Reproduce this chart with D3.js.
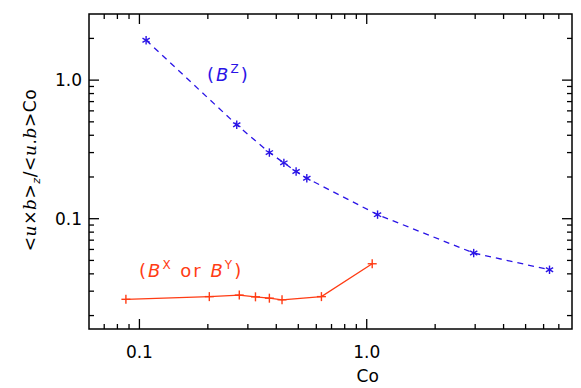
<!DOCTYPE html>
<html>
<head>
<meta charset="utf-8">
<script src="https://cdn.jsdelivr.net/npm/d3@7"></script>
<style>
  body { margin: 0; background: #fff; }
  svg { display: block; }
  text { font-family: "DejaVu Sans", sans-serif; fill: #000; }
</style>
</head>
<body>
<svg id="chart" width="581" height="388"></svg>
<script>
// Co values and the two ratio series
const bzCo = [0.107, 0.268, 0.373, 0.432, 0.489, 0.545, 1.116, 2.955, 6.37];
const bzRatio = [1.94, 0.476, 0.300, 0.253, 0.219, 0.196, 0.107, 0.0565, 0.0428];
const bxyCo = [0.0872, 0.203, 0.275, 0.324, 0.373, 0.424, 0.632, 1.057];
const bxyRatio = [0.0262, 0.0274, 0.0281, 0.0273, 0.0267, 0.0260, 0.0274, 0.0473];
const xTickLabels = ["0.1", "1.0"];
const yTickLabels = ["0.1", "1.0"];

const blue = "#2a14e6";
const red = "#ff3c14";

const svg = d3.select("#chart");
const plotL = 89, plotR = 572, plotT = 14, plotB = 329;

// log scales for both axes
const x = d3.scaleLog().domain([0.06, 8]).range([plotL, plotR]);
const y = d3.scaleLog().domain([0.016, 3]).range([plotB, plotT]);

const isMajor = v => Math.abs(Math.log10(v) - Math.round(Math.log10(v))) < 1e-6;

const axes = svg.append("g").attr("stroke", "#000").attr("stroke-width", 1.3);

// x ticks, bottom and top, pointing inward
const xt = x.ticks().filter(v => x(v) > plotL + 1 && x(v) < plotR - 1);
axes.selectAll(".xb").data(xt).enter().append("line")
  .attr("x1", d => x(d)).attr("x2", d => x(d))
  .attr("y1", plotB).attr("y2", d => plotB - (isMajor(d) ? 10 : 5));
axes.selectAll(".xtop").data(xt).enter().append("line")
  .attr("x1", d => x(d)).attr("x2", d => x(d))
  .attr("y1", plotT).attr("y2", d => plotT + (isMajor(d) ? 10 : 5));

// y ticks, left and right
const yt = y.ticks().filter(v => y(v) > plotT + 1 && y(v) < plotB - 1);
axes.selectAll(".yl").data(yt).enter().append("line")
  .attr("y1", d => y(d)).attr("y2", d => y(d))
  .attr("x1", plotL).attr("x2", d => plotL + (isMajor(d) ? 10 : 5));
axes.selectAll(".yr").data(yt).enter().append("line")
  .attr("y1", d => y(d)).attr("y2", d => y(d))
  .attr("x1", plotR).attr("x2", d => plotR - (isMajor(d) ? 10 : 5));

// frame
svg.append("rect")
  .attr("x", plotL).attr("y", plotT)
  .attr("width", plotR - plotL).attr("height", plotB - plotT)
  .attr("fill", "none").attr("stroke", "#000").attr("stroke-width", 1.5);

// tick labels
svg.selectAll(".xl").data(xTickLabels).enter().append("text")
  .attr("x", d => x(+d)).attr("y", 358)
  .attr("text-anchor", "middle").attr("font-size", 17)
  .text(d => d);
svg.selectAll(".ylab").data(yTickLabels).enter().append("text")
  .attr("x", 82).attr("y", d => y(+d) + 6)
  .attr("text-anchor", "end").attr("font-size", 17)
  .text(d => d);

// axis titles
svg.append("text")
  .attr("x", x(1) + 1).attr("y", 382)
  .attr("text-anchor", "middle").attr("font-size", 17)
  .text("Co");

const yTitle = svg.append("text")
  .attr("transform", "translate(36,170) rotate(-90)")
  .attr("text-anchor", "middle").attr("font-size", 17)
  .attr("letter-spacing", 0.6);
yTitle.append("tspan").text("<");
yTitle.append("tspan").attr("font-style", "italic").attr("font-family", "DejaVu Serif").text("u");
yTitle.append("tspan").text("×");
yTitle.append("tspan").attr("font-style", "italic").attr("font-family", "DejaVu Serif").text("b");
yTitle.append("tspan").text(">");
yTitle.append("tspan").attr("font-size", 11).attr("dy", 4).attr("font-style", "italic").text("z");
yTitle.append("tspan").attr("dy", -4).text("/<");
yTitle.append("tspan").attr("font-style", "italic").attr("font-family", "DejaVu Serif").text("u");
yTitle.append("tspan").text(".");
yTitle.append("tspan").attr("font-style", "italic").attr("font-family", "DejaVu Serif").text("b");
yTitle.append("tspan").text(">Co");

// series lines
const line = d3.line().x(d => x(d[0])).y(d => y(d[1]));
const bz = d3.zip(bzCo, bzRatio);
const bxy = d3.zip(bxyCo, bxyRatio);

svg.append("path").datum(bz)
  .attr("d", line).attr("fill", "none")
  .attr("stroke", blue).attr("stroke-width", 1.3)
  .attr("stroke-dasharray", "6,5");
svg.append("path").datum(bxy)
  .attr("d", line).attr("fill", "none")
  .attr("stroke", red).attr("stroke-width", 1.3);

// asterisk markers for Bz
const star = svg.append("g").attr("stroke", blue).attr("stroke-width", 1.4);
bz.forEach(d => {
  const cx = x(d[0]), cy = y(d[1]), r = 4.2;
  [0, 60, 120].forEach(a => {
    const t = (a + 90) * Math.PI / 180;
    star.append("line")
      .attr("x1", cx - r * Math.cos(t)).attr("y1", cy - r * Math.sin(t))
      .attr("x2", cx + r * Math.cos(t)).attr("y2", cy + r * Math.sin(t));
  });
});

// plus markers for Bx/By
const plus = svg.append("g").attr("stroke", red).attr("stroke-width", 1.4);
bxy.forEach(d => {
  const cx = x(d[0]), cy = y(d[1]), r = 4.5;
  plus.append("line").attr("x1", cx - r).attr("x2", cx + r).attr("y1", cy).attr("y2", cy);
  plus.append("line").attr("x1", cx).attr("x2", cx).attr("y1", cy - r).attr("y2", cy + r);
});

// series labels
const lz = svg.append("text").attr("x", 207).attr("y", 81)
  .attr("font-size", 18).attr("letter-spacing", 2).style("fill", blue);
lz.append("tspan").text("(");
lz.append("tspan").attr("font-style", "italic").text("B");
lz.append("tspan").attr("font-size", 12).attr("dy", -8).text("Z");
lz.append("tspan").attr("dy", 8).text(")");

const lxy = svg.append("text").attr("x", 139).attr("y", 277)
  .attr("font-size", 18).attr("letter-spacing", 2).style("fill", red);
lxy.append("tspan").text("(");
lxy.append("tspan").attr("font-style", "italic").text("B");
lxy.append("tspan").attr("font-size", 12).attr("dy", -8).text("X");
lxy.append("tspan").attr("dy", 8).text(" or ");
lxy.append("tspan").attr("font-style", "italic").text("B");
lxy.append("tspan").attr("font-size", 12).attr("dy", -8).text("Y");
lxy.append("tspan").attr("dy", 8).text(")");
</script>
</body>
</html>
